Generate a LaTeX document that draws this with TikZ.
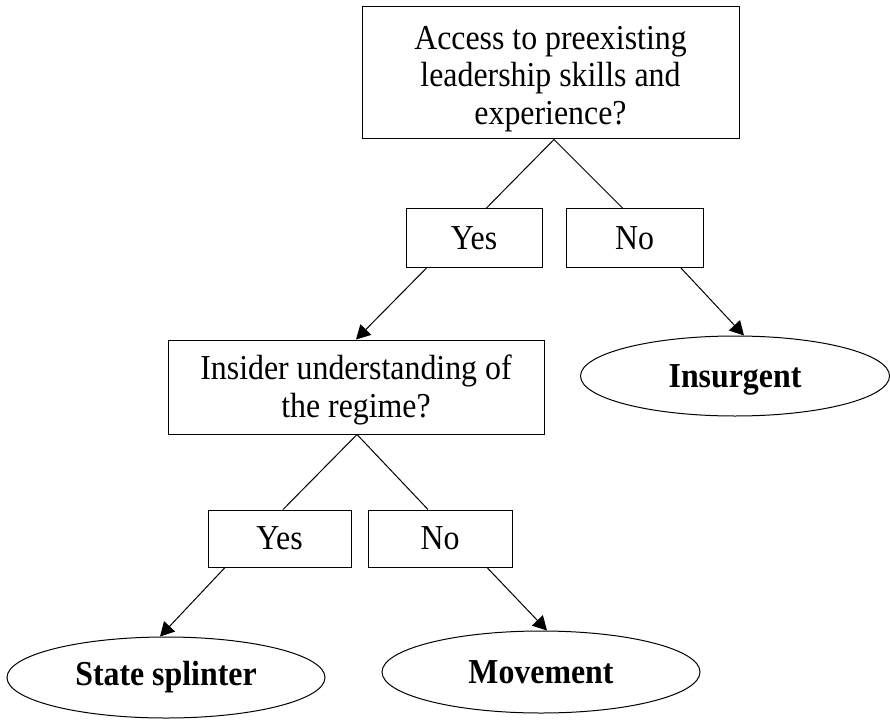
\documentclass[tikz,border=0pt]{standalone}
\usepackage{fontspec}
\setmainfont{Liberation Serif}[FakeStretch=0.91]
\usetikzlibrary{arrows.meta,shapes.geometric}
\begin{document}
\begin{tikzpicture}[>={Triangle[length=14pt,width=15pt]}, x=1pt, y=-1pt, line width=1pt,
	qbox/.style={draw, rectangle, inner sep=0pt, align=center, font=\fontsize{35}{37.5}\selectfont},
	ansbox/.style={draw, rectangle, inner sep=0pt, minimum height=58pt, font=\fontsize{35}{37.5}\selectfont},
	endnode/.style={draw, ellipse, inner sep=0pt, font=\fontsize{35}{37.5}\selectfont\bfseries}]
	\useasboundingbox (0,0) rectangle (890,719);
	% questions
	\node[qbox, minimum width=377pt, minimum height=132pt, text height=109.5pt] (access) at (550.5,73) {Access to preexisting\\leadership skills and\\experience?};
	\node[qbox, minimum width=376pt, minimum height=94pt, text height=68.5pt] (insider) at (356,387) {Insider understanding of\\the regime?};
	% answers
	\node[ansbox, minimum width=136pt] (yesA) at (474,238) {Yes};
	\node[ansbox, minimum width=137pt] (noA) at (634.5,238) {No};
	\node[ansbox, minimum width=143pt, minimum height=57pt] (yesB) at (279.5,538.5) {Yes};
	\node[ansbox, minimum width=144pt, minimum height=57pt] (noB) at (440,538.5) {No};
	% outcomes
	\node[endnode, minimum width=309pt, minimum height=80pt, text height=31pt] (insurgent) at (735,376) {Insurgent};
	\node[endnode, minimum width=318pt, minimum height=81pt] (splinter) at (166,677.5) {State splinter};
	\node[endnode, minimum width=318pt, minimum height=82pt] (movement) at (541,672) {Movement};
	% connectors
	\draw ([xshift=3.5pt]access.south) -- ([xshift=12pt]yesA.north);
	\draw ([xshift=3.5pt]access.south) -- ([xshift=-11.5pt]noA.north);
	\draw[->] ([xshift=-47pt]yesA.south) -- (insider.north);
	\draw[->] ([xshift=46pt]noA.south) -- ([xshift=9pt]insurgent.north);
	\draw ([xshift=1pt]insider.south) -- ([xshift=3.5pt]yesB.north);
	\draw ([xshift=1pt]insider.south) -- ([xshift=-12pt]noB.north);
	\draw[->] ([xshift=-54.5pt]yesB.south) -- ([xshift=-6pt]splinter.north);
	\draw[->] ([xshift=47pt]noB.south) -- ([xshift=6pt]movement.north);
\end{tikzpicture}
\end{document}
